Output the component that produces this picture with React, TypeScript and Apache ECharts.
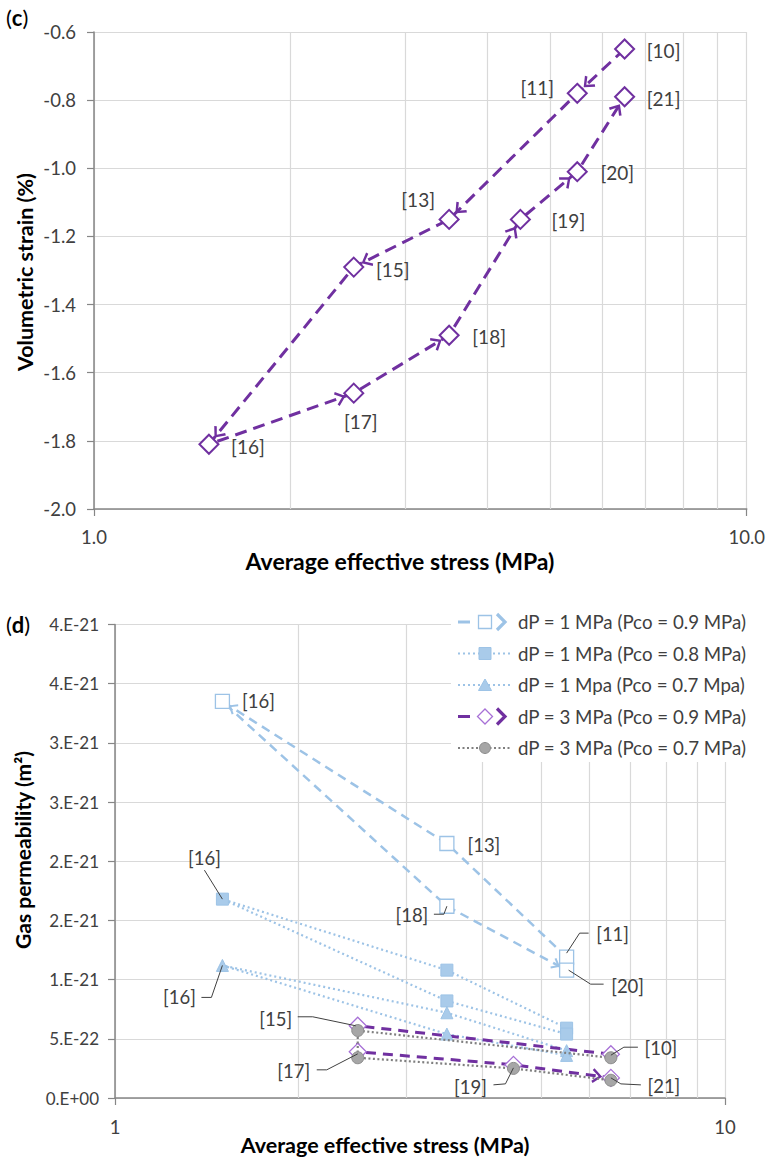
import React, { useEffect, useRef } from "react";
import * as echarts from "echarts";

// ---------------- Panel (c): volumetric strain ----------------
const strainStages = ["[10]", "[11]", "[13]", "[15]", "[16]", "[17]", "[18]", "[19]", "[20]", "[21]"];
const strainStress = [6.5, 5.5, 3.5, 2.5, 1.5, 2.5, 3.5, 4.5, 5.5, 6.5];
const strainValues = [-0.65, -0.78, -1.15, -1.29, -1.81, -1.66, -1.49, -1.15, -1.01, -0.79];
const strainYTicks = ["-2.0", "-1.8", "-1.6", "-1.4", "-1.2", "-1.0", "-0.8", "-0.6"];
const stressTicksC = ["1.0", "10.0"];
const stressTicksD = ["1", "10"];
const minorStress = [2, 3, 4, 5, 6, 7, 8, 9];

// ---------------- Panel (d): gas permeability ----------------
const seriesNames = [
  "dP = 1 MPa (Pco = 0.9 MPa)",
  "dP = 1 MPa (Pco = 0.8 MPa)",
  "dP = 1 Mpa (Pco = 0.7 Mpa)",
  "dP = 3 MPa (Pco = 0.9 MPa)",
  "dP = 3 MPa (Pco = 0.7 MPa)",
];
const stagesA = ["[11]", "[13]", "[16]", "[18]", "[20]"];
const stressA = [5.5, 3.5, 1.5, 3.5, 5.5];
const permA1 = [1.19e-21, 2.15e-21, 3.35e-21, 1.62e-21, 1.08e-21];
const permA2 = [5.9e-22, 1.08e-21, 1.68e-21, 8.2e-22, 5.4e-22];
const permA3 = [4.0e-22, 7.2e-22, 1.12e-21, 5.4e-22, 3.6e-22];
const stagesB = ["[10]", "[15]", "[17]", "[19]", "[21]"];
const stressB = [6.5, 2.5, 2.5, 4.5, 6.5];
const permB1 = [3.7e-22, 6.1e-22, 3.9e-22, 2.8e-22, 1.7e-22];
const permB2 = [3.4e-22, 5.7e-22, 3.4e-22, 2.5e-22, 1.5e-22];
const permYTicks = ["0.E+00", "5.E-22", "1.E-21", "2.E-21", "2.E-21", "3.E-21", "3.E-21", "4.E-21", "4.E-21"];
const PERM_UNIT = 1e-21; // plotted in units of 1e-21 m2

// ---------------- styles / layout ----------------
const PURPLE = "#7030A0";
const PURPLE_LIGHT = "#A770D6";
const LBLUE = "#9DC3E6";
const LBLUE_FILL = "#A9CBEA";
const GRAY = "#7F7F7F";
const GRID = "#D9D9D9";
const AXIS = "#868686";
const TXT = "#404040";
const FONT = "Lato, 'Open Sans', sans-serif";

// arrow (points "up"); leading dummy move widens the box so the tip sits behind the end point
const ARROW = "path://M10,-38 M10,0 L20,12 L17.2,14 L10,5 L2.8,14 L0,12 Z";

const labelLayoutC: Record<string, [number, number]> = {
  "[10]": [39, 1], "[11]": [-40, -6], "[13]": [-31, -20], "[15]": [39, 2], "[16]": [39, 2],
  "[17]": [7, 28], "[18]": [40, 1], "[19]": [48, 1], "[20]": [40, 1], "[21]": [39, 2],
};
type LD = { d: [number, number]; leader?: number[][] };
const labelLayoutA1: Record<string, LD> = {
  "[16]": { d: [36, 0] },
  "[13]": { d: [37, 2] },
  "[18]": { d: [-35, 9], leader: [[-13, 8], [-3, 8], [0, 0]] },
  "[11]": { d: [46, -23], leader: [[22, -24], [13, -24], [0, -4]] },
  "[20]": { d: [61, 16], leader: [[37, 14], [24, 14], [2, 0]] },
};
const labelLayoutA2: Record<string, LD> = { "[16]": { d: [-18, -41], leader: [[-18, -29], [0, 0]] } };
const labelLayoutA3: Record<string, LD> = { "[16]": { d: [-43, 32], leader: [[-21, 32], [-11, 32], [0, 0]] } };
const labelLayoutB1: Record<string, LD> = {
  "[15]": { d: [-82, -7], leader: [[-60, -9], [-45, -9], [-2, 0]] },
  "[17]": { d: [-64, 19], leader: [[-41, 18], [-31, 18], [0, 2]] },
  "[10]": { d: [50, -6], leader: [[27, -7], [13, -7], [0, 1]] },
  "[21]": { d: [53, 8], leader: [[30, 7], [10, 6], [0, 0]] },
  "[19]": { d: [-43, 22], leader: [[-20, 20], [-8, 19], [0, 3]] },
};

function pairs(xs: number[], ys: number[], unit = 1) {
  return xs.map((x, i) => [x, ys[i] / unit]);
}
function segments(pts: number[][], ends: number[]) {
  return ends.map((e) => ({ coords: [pts[e - 1], pts[e]] }));
}

function buildOption() {
  const ptsC = pairs(strainStress, strainValues);
  const ptsA1 = pairs(stressA, permA1, PERM_UNIT);
  const ptsA2 = pairs(stressA, permA2, PERM_UNIT);
  const ptsA3 = pairs(stressA, permA3, PERM_UNIT);
  const ptsB1 = pairs(stressB, permB1, PERM_UNIT);
  const ptsB2 = pairs(stressB, permB2, PERM_UNIT);

  const axisCommon = {
    axisLine: { show: true, onZero: false, lineStyle: { color: AXIS, width: 1.5 } },
    axisTick: { show: true, length: 7, lineStyle: { color: AXIS, width: 1.2 } },
    splitLine: { show: true, lineStyle: { color: GRID, width: 1.2 } },
  };
  const minorGrid = (xi: number, yi: number, y0: number) => ({
    type: "line", xAxisIndex: xi, yAxisIndex: yi, data: [[2, y0]], symbol: "none",
    lineStyle: { opacity: 0 }, silent: true, z: 1,
    markLine: {
      silent: true, symbol: "none", z: 1, animation: false,
      label: { show: false },
      lineStyle: { color: GRID, width: 1.2, type: "solid" },
      emphasis: { disabled: true },
      data: minorStress.map((v) => ({ xAxis: v })),
    },
  });

  return {
    animation: false,
    backgroundColor: "#fff",
    textStyle: { fontFamily: FONT },
    grid: [
      { left: 94, top: 32, width: 653, height: 477 },
      { left: 115, top: 624.5, width: 610, height: 473.5 },
    ],
    xAxis: [
      {
        type: "log", logBase: 10, min: 1, max: 10, gridIndex: 0, ...axisCommon,
        axisLabel: {
          fontSize: 18.5, color: TXT, fontFamily: FONT, margin: 18,
          formatter: (v: number) => stressTicksC[Math.round(Math.log10(v))],
        },
      },
      {
        type: "log", logBase: 10, min: 1, max: 10, gridIndex: 1, ...axisCommon,
        axisLabel: {
          fontSize: 18.5, color: TXT, fontFamily: FONT, margin: 19,
          formatter: (v: number) => stressTicksD[Math.round(Math.log10(v))],
        },
      },
    ],
    yAxis: [
      {
        type: "value", min: -2.0, max: -0.6, interval: 0.2, gridIndex: 0, ...axisCommon,
        axisLabel: {
          fontSize: 18.5, color: TXT, fontFamily: FONT, margin: 18,
          formatter: (v: number) => strainYTicks[Math.round((v + 2.0) / 0.2)],
        },
      },
      {
        type: "value", min: 0, max: 4, interval: 0.5, gridIndex: 1, ...axisCommon,
        axisLabel: {
          fontSize: 17, color: TXT, fontFamily: FONT, margin: 16,
          formatter: (v: number) => permYTicks[Math.round(v / 0.5)],
        },
      },
    ],
    series: [
      minorGrid(0, 0, -1.5),
      minorGrid(1, 1, 1),
      // ---- (c)
      {
        type: "line", xAxisIndex: 0, yAxisIndex: 0, data: ptsC, z: 4,
        symbol: "diamond", symbolSize: 19,
        itemStyle: { color: "#fff", borderColor: PURPLE, borderWidth: 2 },
        lineStyle: { color: PURPLE, width: 3, type: [12, 7] },
      },
      {
        type: "lines", coordinateSystem: "cartesian2d", xAxisIndex: 0, yAxisIndex: 0, z: 3,
        silent: true, symbol: ["none", ARROW], symbolSize: [0, [15, 38]],
        lineStyle: { color: PURPLE, width: 0, opacity: 1 },
        data: segments(ptsC, [1, 2, 3, 4, 5, 6, 7, 8, 9]),
      },
      // ---- (d)
      {
        name: seriesNames[0], type: "line", xAxisIndex: 1, yAxisIndex: 1, data: ptsA1, z: 4,
        symbol: "rect", symbolSize: 14,
        itemStyle: { color: "#fff", borderColor: LBLUE, borderWidth: 1.3 },
        lineStyle: { color: LBLUE, width: 2.5, type: [9, 6] },
      },
      {
        type: "lines", coordinateSystem: "cartesian2d", xAxisIndex: 1, yAxisIndex: 1, z: 3,
        silent: true, symbol: ["none", ARROW], symbolSize: [0, [12, 32]],
        lineStyle: { color: LBLUE, width: 0, opacity: 1 },
        data: segments(ptsA1, [2, 4]),
      },
      {
        name: seriesNames[1], type: "line", xAxisIndex: 1, yAxisIndex: 1, data: ptsA2, z: 4,
        symbol: "rect", symbolSize: 12,
        itemStyle: { color: LBLUE_FILL, borderColor: LBLUE, borderWidth: 1 },
        lineStyle: { color: LBLUE, width: 2.2, type: [2, 3] },
      },
      {
        name: seriesNames[2], type: "line", xAxisIndex: 1, yAxisIndex: 1, data: ptsA3, z: 4,
        symbol: "triangle", symbolSize: 12,
        itemStyle: { color: LBLUE_FILL, borderColor: LBLUE, borderWidth: 1 },
        lineStyle: { color: LBLUE, width: 2.2, type: [2, 3] },
      },
      {
        name: seriesNames[3], type: "line", xAxisIndex: 1, yAxisIndex: 1, data: ptsB1, z: 4,
        symbol: "diamond", symbolSize: 17,
        itemStyle: { color: "#fff", borderColor: PURPLE_LIGHT, borderWidth: 1.3 },
        lineStyle: { color: PURPLE, width: 3, type: [10, 7] },
      },
      {
        type: "lines", coordinateSystem: "cartesian2d", xAxisIndex: 1, yAxisIndex: 1, z: 3,
        silent: true, symbol: ["none", ARROW], symbolSize: [0, [15, 38]],
        lineStyle: { color: PURPLE, width: 0, opacity: 1 },
        data: segments(ptsB1, [4]),
      },
      {
        name: seriesNames[4], type: "line", xAxisIndex: 1, yAxisIndex: 1, data: ptsB2, z: 5,
        symbol: "circle", symbolSize: 12,
        itemStyle: { color: "#A6A6A6", borderColor: "#8C8C8C", borderWidth: 1 },
        lineStyle: { color: GRAY, width: 2.2, type: [2, 2.5] },
      },
    ],
  };
}

function txt(x: number, y: number, text: string, extra: any = {}) {
  return {
    type: "text", x, y, z: 100, silent: true,
    style: {
      text, fill: TXT, fontSize: 19, fontFamily: FONT,
      textAlign: "center", textVerticalAlign: "middle", align: "center", verticalAlign: "middle",
      ...extra,
    },
  };
}

function buildGraphics(chart: any) {
  const g: any[] = [];
  // panel tags
  const tagRich = {
    p: { fontSize: 22, fontFamily: FONT, fill: "#000", color: "#000" },
    b: { fontSize: 22, fontFamily: FONT, fontWeight: "bold", fill: "#000", color: "#000" },
  };
  g.push({ type: "text", x: 6, y: 17, z: 100, style: { text: "{p|(}{b|c}{p|)}", rich: tagRich, verticalAlign: "middle", textVerticalAlign: "middle" } });
  g.push({ type: "text", x: 6, y: 624, z: 100, style: { text: "{p|(}{b|d}{p|)}", rich: tagRich, verticalAlign: "middle", textVerticalAlign: "middle" } });
  // axis titles
  g.push(txt(400, 561, "Average effective stress (MPa)", { fontWeight: "bold", fontSize: 23, fill: "#000" }));
  g.push({ ...txt(25, 272, "Volumetric strain (%)", { fontWeight: "bold", fontSize: 21.5, fill: "#000" }), rotation: Math.PI / 2 });
  g.push(txt(385, 1145, "Average effective stress (MPa)", { fontWeight: "bold", fontSize: 21.5, fill: "#000" }));
  g.push({ ...txt(22, 850, "Gas permeability (m²)", { fontWeight: "bold", fontSize: 21, fill: "#000" }), rotation: Math.PI / 2 });

  // labels of panel (c)
  strainStages.forEach((s, i) => {
    const p = chart.convertToPixel({ gridIndex: 0 }, [strainStress[i], strainValues[i]]);
    const d = labelLayoutC[s];
    g.push(txt(p[0] + d[0], p[1] + d[1], s));
  });

  // labels of panel (d)
  const addD = (stages: string[], xs: number[], ys: number[], layout: Record<string, LD>) => {
    stages.forEach((s, i) => {
      const L = layout[s];
      if (!L) return;
      const p = chart.convertToPixel({ gridIndex: 1 }, [xs[i], ys[i] / PERM_UNIT]);
      g.push(txt(p[0] + L.d[0], p[1] + L.d[1], s, { fontSize: 18.5 }));
      if (L.leader) {
        g.push({
          type: "polyline", z: 99, silent: true,
          shape: { points: L.leader.map((q) => [p[0] + q[0], p[1] + q[1]]) },
          style: { stroke: "#404040", lineWidth: 1, fill: "none" },
        });
      }
    });
  };
  addD(stagesA, stressA, permA1, labelLayoutA1);
  addD(stagesA, stressA, permA2, labelLayoutA2);
  addD(stagesA, stressA, permA3, labelLayoutA3);
  addD(stagesB, stressB, permB1, labelLayoutB1);

  // legend (panel d)
  g.push({ type: "rect", z: 90, silent: true, shape: { x: 451, y: 604, width: 317, height: 158 }, style: { fill: "#fff" } });
  const rowY = [622, 653.5, 685, 716.5, 748];
  const lx0 = 458, lx1 = 510, mx = 485, tx = 518;
  const chevron = (y: number, color: string) => ({
    type: "polyline", z: 95, silent: true,
    shape: { points: [[497, y - 8], [505, y], [497, y + 8]] },
    style: { stroke: color, lineWidth: 3.2, fill: "none" },
  });
  // row 1
  g.push({ type: "line", z: 95, shape: { x1: lx0, y1: rowY[0], x2: 470, y2: rowY[0] }, style: { stroke: LBLUE, lineWidth: 3 } });
  g.push({ type: "rect", z: 96, shape: { x: mx - 6.5, y: rowY[0] - 6.5, width: 13, height: 13 }, style: { fill: "#fff", stroke: LBLUE, lineWidth: 1.3 } });
  g.push(chevron(rowY[0], LBLUE));
  // row 2
  g.push({ type: "line", z: 95, shape: { x1: lx0, y1: rowY[1], x2: lx1, y2: rowY[1] }, style: { stroke: LBLUE, lineWidth: 2.2, lineDash: [2, 3] } });
  g.push({ type: "rect", z: 96, shape: { x: mx - 6, y: rowY[1] - 6, width: 12, height: 12 }, style: { fill: LBLUE_FILL, stroke: LBLUE, lineWidth: 1 } });
  // row 3
  g.push({ type: "line", z: 95, shape: { x1: lx0, y1: rowY[2], x2: lx1, y2: rowY[2] }, style: { stroke: LBLUE, lineWidth: 2.2, lineDash: [2, 3] } });
  g.push({ type: "polygon", z: 96, shape: { points: [[mx, rowY[2] - 6], [mx + 6.5, rowY[2] + 5.5], [mx - 6.5, rowY[2] + 5.5]] }, style: { fill: LBLUE_FILL, stroke: LBLUE, lineWidth: 1 } });
  // row 4
  g.push({ type: "line", z: 95, shape: { x1: lx0, y1: rowY[3], x2: 470, y2: rowY[3] }, style: { stroke: PURPLE, lineWidth: 3 } });
  g.push({ type: "polygon", z: 96, shape: { points: [[mx, rowY[3] - 7.5], [mx + 7.5, rowY[3]], [mx, rowY[3] + 7.5], [mx - 7.5, rowY[3]]] }, style: { fill: "#fff", stroke: PURPLE_LIGHT, lineWidth: 1.3 } });
  g.push(chevron(rowY[3], PURPLE));
  // row 5
  g.push({ type: "line", z: 95, shape: { x1: lx0, y1: rowY[4], x2: lx1, y2: rowY[4] }, style: { stroke: GRAY, lineWidth: 2.2, lineDash: [2, 2.5] } });
  g.push({ type: "circle", z: 96, shape: { cx: mx, cy: rowY[4], r: 5.5 }, style: { fill: "#A6A6A6", stroke: "#8C8C8C", lineWidth: 1 } });
  seriesNames.forEach((n, i) => {
    g.push(txt(tx, rowY[i], n, { textAlign: "left", align: "left", fontSize: 18.7 }));
  });
  return g;
}

export default function App() {
  const ref = useRef<HTMLDivElement>(null);
  useEffect(() => {
    const chart = echarts.init(ref.current as HTMLDivElement, null, { renderer: "svg" });
    chart.setOption(buildOption() as any);
    chart.setOption({ graphic: buildGraphics(chart) } as any);
    return () => chart.dispose();
  }, []);
  return (
    <div
      ref={ref}
      style={{ position: "absolute", left: 0, top: 0, width: 768, height: 1161, background: "#fff" }}
    />
  );
}
